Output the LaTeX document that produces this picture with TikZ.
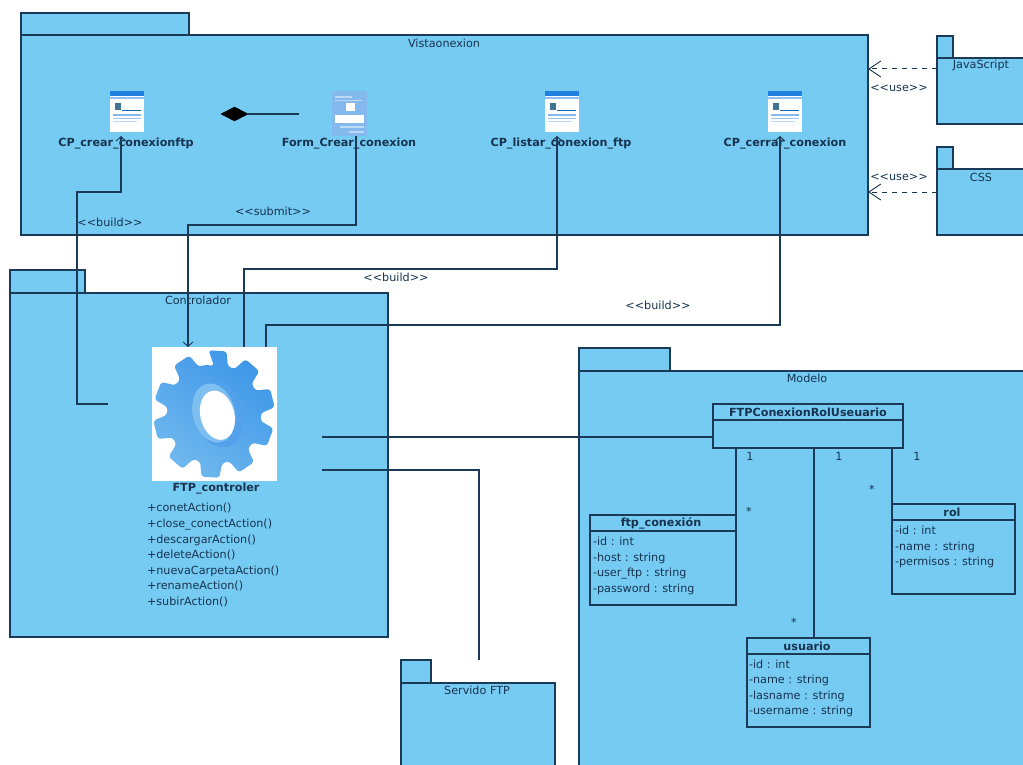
\documentclass[tikz,border=0pt]{standalone}
\usepackage{fontspec}
\setmainfont{DejaVu Sans}
\usetikzlibrary{arrows.meta,shapes.geometric}
\definecolor{pk}{HTML}{76CBF3}
\definecolor{ln}{HTML}{1B3A57}
\definecolor{tx}{HTML}{17334F}
\definecolor{gearA}{HTML}{3F97E8}
\definecolor{gearB}{HTML}{6FB8EE}
\definecolor{barb}{HTML}{2080E0}
\tikzset{
  box/.style={draw=ln,line width=1.1pt,fill=pk,rectangle,inner sep=0pt,outer sep=0pt,anchor=north west},
  txt/.style={text=tx,inner sep=0pt,outer sep=0pt,font=\fontsize{11.2}{13}\selectfont},
  attr/.style={txt,anchor=base west,yshift=-4pt},
  title/.style={txt,font=\fontsize{11.2}{13}\selectfont\bfseries},
  conn/.style={draw=ln,line width=1.1pt},
  open/.style={-{Straight Barb[length=4.5pt,width=10pt,line width=.9pt]}},
  bigopen/.style={-{Straight Barb[length=12pt,width=16pt,line width=.9pt]},dash pattern=on 5pt off 5pt,draw=ln!90!black,line width=1pt},
  icon/.style={fill=white,rectangle,inner sep=0pt,outer sep=0pt,anchor=north west,minimum width=34pt,minimum height=41pt},
}
% window thumbnail drawn in the node of the given name
\newcommand{\winicon}[1]{%
  \fill[barb] (#1.north west) rectangle ++(34,5);
  \fill[barb!50] ([shift={(0,6)}]#1.north west) rectangle ++(34,2.5);
  \fill[ln!60!pk] ([shift={(5,12)}]#1.north west) rectangle ++(6,7);
  \draw[barb!80!black,line width=.6pt] ([shift={(12,19)}]#1.north west) -- ++(19,0);
  \fill[barb!55] ([shift={(3,23)}]#1.north west) rectangle ++(28,2);
  \fill[barb!45] ([shift={(3,27)}]#1.north west) rectangle ++(28,1.5);
  \fill[barb!30] ([shift={(3,30)}]#1.north west) rectangle ++(24,1.5);
}
\begin{document}
\begin{tikzpicture}[x=1pt,y=-1pt]
\useasboundingbox (0,0) rectangle (1023,765);
\clip (0,0) rectangle (1023,765);
\fill[white] (0,0) rectangle (1023,765);

% Packages
\node[box,minimum width=168pt,minimum height=22pt] (vistatab) at (21,13) {};
\node[box,minimum width=847pt,minimum height=200pt] (vista) at (21,35) {};
\node[box,minimum width=75pt,minimum height=23pt] (ctrltab) at (10,270) {};
\node[box,minimum width=378pt,minimum height=344pt] (ctrl) at (10,293) {};
\node[box,minimum width=91pt,minimum height=23pt] (modtab) at (579,348) {};
\node[box,minimum width=460pt,minimum height=410pt] (modelo) at (579,371) {};
\node[box,minimum width=30pt,minimum height=23pt] (ftptab) at (401,660) {};
\node[box,minimum width=154pt,minimum height=100pt] (ftp) at (401,683) {};
\node[box,minimum width=16pt,minimum height=22pt] (jstab) at (937,36) {};
\node[box,minimum width=100pt,minimum height=66pt] (js) at (937,58) {};
\node[box,minimum width=16pt,minimum height=22pt] (csstab) at (937,147) {};
\node[box,minimum width=100pt,minimum height=66pt] (css) at (937,169) {};

\node[txt] (lvista) at (444,43) {Vistaonexion};
\node[txt] (lctrl) at (198,300) {Controlador};
\node[txt] (lmod) at (807,378) {Modelo};
\node[txt] (lftp) at (477,690) {Servido FTP};
\node[txt] (ljs) at (981,65) {JavaScript};
\node[txt] (lcss) at (981,177) {CSS};

% Window icons
\node[icon] (i1) at (110,91) {};
\node[icon] (i3) at (545,91) {};
\node[icon] (i4) at (768,91) {};
\winicon{i1}\winicon{i3}\winicon{i4}
\node[icon,fill=barb!55,minimum width=35pt,minimum height=45pt] (i2) at (332,91) {};
\fill[white] ([shift={(3,24)}]i2.north west) rectangle ++(29,8);
\fill[white] ([shift={(14,12)}]i2.north west) rectangle ++(9,8);
\fill[white!70!barb] ([shift={(3,5)}]i2.north west) rectangle ++(17,2);
\fill[white!70!barb] ([shift={(3,9)}]i2.north west) rectangle ++(27,1);
\fill[white!70!barb] ([shift={(8,35)}]i2.north west) rectangle ++(24,2);
\fill[white!70!barb] ([shift={(17,40)}]i2.north west) rectangle ++(15,2);

\node[title] (t1) at (126,144) {CP\_crear\_conexionftp};
\node[title] (t2) at (349,144) {Form\_Crear\_conexion};
\node[title] (t3) at (561,144) {CP\_listar\_conexion\_ftp};
\node[title] (t4) at (785,144) {CP\_cerrar\_conexion};

% Composition
\node[diamond,fill=black,draw=black,inner sep=0pt,outer sep=0pt,minimum width=27pt,minimum height=14pt] (comp) at (234.5,114) {};
\coordinate (formleft) at (299,114);
\draw[conn] (formleft) -- (comp.east);

% Gear
\node[fill=white,rectangle,inner sep=0pt,outer sep=0pt,anchor=north west,minimum width=125pt,minimum height=134pt] (gearbox) at (152,347) {};
\begin{scope}[shift={(214,414)}]
  \shade[top color=gearA,bottom color=gearB,shading angle=-35,rounded corners=3pt]
    (0,-48)
    \foreach \a in {0,36,...,324} {
      -- ({61*sin(\a-5)},{-64*cos(\a-5)})
      -- ({61*sin(\a+12)},{-64*cos(\a+12)})
      -- ({47*sin(\a+17)},{-50*cos(\a+17)})
      -- ({47*sin(\a+26)},{-50*cos(\a+26)})
    } -- cycle;
  \fill[gearA!90!white,rotate=14] (5,2) ellipse (24pt and 33pt);
  \fill[gearB!90!white,rotate=14] (0,-1) ellipse (21pt and 30pt);
  \fill[white,rotate=14] (3,2) ellipse (17pt and 25pt);
\end{scope}

\node[title] (tctrl) at (216,489) {FTP\_controler};
\node[attr] (m1) at (147,507) {+conetAction()};
\node[attr] (m2) at (147,523) {+close\_conectAction()};
\node[attr] (m3) at (147,539) {+descargarAction()};
\node[attr] (m4) at (147,554) {+deleteAction()};
\node[attr] (m5) at (147,570) {+nuevaCarpetaAction()};
\node[attr] (m6) at (147,585) {+renameAction()};
\node[attr] (m7) at (147,601) {+subirAction()};

% Classes
\node[box,fill=none,minimum width=190pt,minimum height=44pt] (fcr) at (713,404) {};
\draw[conn] (713,420) -- (903,420);
\node[title] (tfcr) at (808,412) {FTPConexionRolUseuario};

\node[box,fill=none,minimum width=146pt,minimum height=90pt] (fc) at (590,515) {};
\draw[conn] (590,531) -- (736,531);
\node[title] (tfc) at (661,523) {ftp\_conexión};
\node[attr] (a1) at (593,541) {-id : int};
\node[attr] (a2) at (593,557) {-host : string};
\node[attr] (a3) at (593,572) {-user\_ftp : string};
\node[attr] (a4) at (593,588) {-password : string};

\node[box,fill=none,minimum width=123pt,minimum height=90pt] (rol) at (892,504) {};
\draw[conn] (892,520) -- (1015,520);
\node[title] (trol) at (952,512) {rol};
\node[attr] (b1) at (895,530) {-id : int};
\node[attr] (b2) at (895,546) {-name : string};
\node[attr] (b3) at (895,561) {-permisos : string};

\node[box,fill=none,minimum width=123pt,minimum height=89pt] (usu) at (747,638) {};
\draw[conn] (747,654) -- (870,654);
\node[title] (tusu) at (807,646) {usuario};
\node[attr] (c1) at (749,664) {-id : int};
\node[attr] (c2) at (749,679) {-name : string};
\node[attr] (c3) at (749,695) {-lasname : string};
\node[attr] (c4) at (749,710) {-username : string};

% Free ends
\coordinate (e1) at (121,136);
\coordinate (e2) at (356,136);
\coordinate (e3) at (557,136);
\coordinate (e4) at (780,136);
\coordinate (g1) at (108,404);
\coordinate (g2) at (188,347);
\coordinate (g3) at (244,347);
\coordinate (g4) at (266,347);
\coordinate (g5) at (322,437);
\coordinate (g6) at (322,470);

% Connectors
\draw[conn,open] (g1) -- (77,404) -- (77,192) -- (121,192) -- (e1);
\draw[conn,open] (e2) -- (356,225) -- (188,225) -- (g2);
\draw[conn,open] (g3) -- (244,269) -- (557,269) -- (e3);
\draw[conn,open] (g4) -- (266,325) -- (780,325) -- (e4);
\draw[conn] (g5) -- (g5 -| fcr.west);
\draw[conn] (g6) -- (479,470) -- (479,660);
\draw[conn] (736,448) -- (736,515);
\draw[conn] (814,448) -- (814,638);
\draw[conn] (892,448) -- (892,504);
\draw[bigopen] (js.west |- 0,69) -- (vista.east |- 0,69);
\draw[bigopen] (css.west |- 0,192) -- (vista.east |- 0,192);

% Connector labels
\node[txt] (l1) at (110,222) {<{}<build>{}>};
\node[txt] (l2) at (273,211) {<{}<submit>{}>};
\node[txt] (l3) at (396,277) {<{}<build>{}>};
\node[txt] (l4) at (658,305) {<{}<build>{}>};
\node[txt] (l5) at (899,88) {<{}<use>{}>};
\node[txt] (l6) at (899,177) {<{}<use>{}>};
\node[txt] (n1) at (750,456) {1};
\node[txt] (n2) at (839,456) {1};
\node[txt] (n3) at (917,456) {1};
\node[txt] (s1) at (749,511) {*};
\node[txt] (s2) at (794,622) {*};
\node[txt] (s3) at (872,489) {*};
\end{tikzpicture}
\end{document}
